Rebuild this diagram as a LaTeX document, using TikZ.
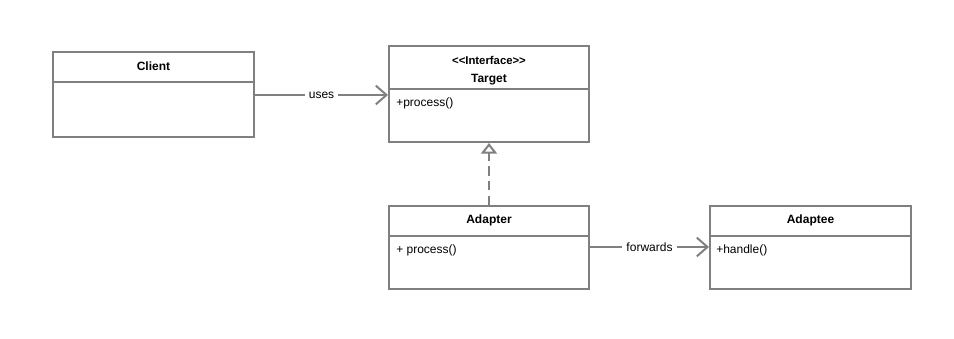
\documentclass[tikz,border=0pt]{standalone}
\usepackage{fontspec}
\setmainfont{Liberation Sans}[Ligatures=NoCommon]
\usetikzlibrary{arrows.meta,calc,positioning}
\definecolor{umlgray}{RGB}{128,128,128}

\begin{document}
\begin{tikzpicture}[x=0.75pt, y=-0.75pt,
    classbox/.style={draw=umlgray, line width=1.5pt, inner sep=0pt},
    title/.style={font=\fontsize{9}{10}\selectfont\bfseries, inner sep=0pt},
    member/.style={font=\fontsize{9}{10}\selectfont, inner sep=0pt, anchor=west},
    divider/.style={draw=umlgray, line width=1.5pt},
    assoc/.style={draw=umlgray, line width=1.5pt, -{Straight Barb[length=8pt, width=14pt, line width=1.5pt]}},
    realize/.style={draw=umlgray, line width=1.5pt, dash pattern=on 7pt off 4pt, -{Triangle[open, length=8pt, width=12pt, line width=1.5pt, fill=white]}},
    edgelabel/.style={font=\fontsize{9}{10}\selectfont, fill=white, inner sep=3pt}
  ]
  \useasboundingbox (0,0) rectangle (954,339);

  % class boxes
  \node[classbox, minimum width=201*0.75pt, minimum height=85*0.75pt] (client) at (153.5,94.5) {};
  \node[classbox, minimum width=200*0.75pt, minimum height=96*0.75pt] (target) at (489,94) {};
  \node[classbox, minimum width=200*0.75pt, minimum height=83*0.75pt] (adapter) at (489,247.5) {};
  \node[classbox, minimum width=201*0.75pt, minimum height=83*0.75pt] (adaptee) at (810.5,247.5) {};

  % compartments
  \draw[divider] ($(client.north west)+(0,31)$) -- ($(client.north east)+(0,31)$);
  \draw[divider] ($(target.north west)+(0,44)$) -- ($(target.north east)+(0,44)$);
  \draw[divider] ($(adapter.north west)+(0,31)$) -- ($(adapter.north east)+(0,31)$);
  \draw[divider] ($(adaptee.north west)+(0,31)$) -- ($(adaptee.north east)+(0,31)$);

  % names and members
  \node[title] (clientname) at (153.5,66.5) {Client};
  \node[title, font=\fontsize{8.5}{10}\selectfont\bfseries] (stereo) at (489,60) {{<}{<}Interface{>}{>}};
  \node[title] (targetname) at (489,79.5) {Target};
  \node[member] (targetop) at (396,103.5) {+process()};
  \node[title] (adaptername) at (489,220.5) {Adapter};
  \node[member] (adapterop) at (396,250.5) {+ process()};
  \node[title] (adapteename) at (810.5,220.5) {Adaptee};
  \node[member] (adapteeop) at (716,250.5) {+handle()};

  % relations
  \draw[assoc] (client.east |- 0,95) -- node[edgelabel] {uses} (target.west |- 0,95);
  \draw[assoc] (adapter.east |- 0,247) -- node[edgelabel] {forwards} (adaptee.west |- 0,247);
  \draw[realize] (adapter.north) -- (target.south);
\end{tikzpicture}
\end{document}
